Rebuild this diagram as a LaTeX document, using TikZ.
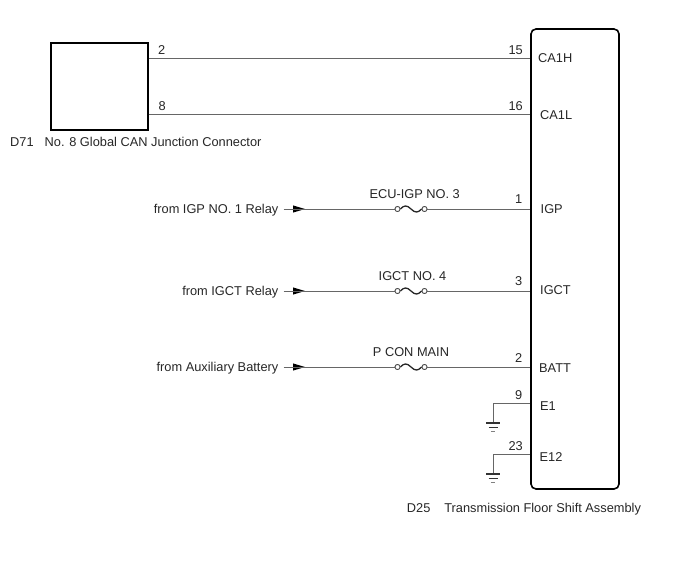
\documentclass[tikz,border=0pt]{standalone}
\usepackage{fontspec}
\setmainfont{Liberation Sans}
\begin{document}
\begin{tikzpicture}[x=1pt,y=-1pt,
  font=\fontsize{12.8}{14}\selectfont,
  txt/.style={text=black!85, inner sep=0pt},
  wire/.style={draw=black!60, line width=1pt},
  boxd/.style={draw=black, line width=1.6pt, inner sep=0pt},
  fusec/.style={circle, draw=black!70, line width=0.8pt, fill=white, minimum size=5pt, inner sep=0pt},
  fwave/.style={draw=black!85, line width=1.3pt},
  gnd/.style={draw=black!80, line width=1pt},
  tri/.style={fill=black}]
\useasboundingbox (0,0) rectangle (688,560);

% boxes
\node[boxd, minimum width=97pt, minimum height=87pt] (d71) at (99.2,86.7) {};
\node[boxd, rounded corners=5pt, minimum width=88pt, minimum height=460pt] (d25) at (575,259) {};

% pin coordinates on the assembly
\coordinate (p15) at (d25.west |- 0,58.5);
\coordinate (p16) at (d25.west |- 0,114.5);
\coordinate (p1)  at (d25.west |- 0,209);
\coordinate (p3)  at (d25.west |- 0,291);
\coordinate (p2)  at (d25.west |- 0,367);
\coordinate (p9)  at (d25.west |- 0,403.5);
\coordinate (p23) at (d25.west |- 0,454);
\coordinate (j2) at (d71.east |- 0,58.5);
\coordinate (j8) at (d71.east |- 0,114.5);

% CAN wires
\draw[wire] (j2) -- (p15);
\draw[wire] (j8) -- (p16);

% connector labels
\node[txt, anchor=base west] (n2) at (158,54) {2};
\node[txt, anchor=base west] (n8) at (158.5,110) {8};
\node[txt, anchor=base west] (d71lbl) at (10,146) {D71\hspace{11pt}No. 8 Global CAN Junction Connector};

% pin numbers
\node[txt, anchor=base east] (t15) at (523,54) {15};
\node[txt, anchor=base east] (t16) at (523,110.5) {16};
\node[txt, anchor=base east] (t1)  at (522.5,203.3) {1};
\node[txt, anchor=base east] (t3)  at (522.5,285) {3};
\node[txt, anchor=base east] (t2)  at (522.5,362.3) {2};
\node[txt, anchor=base east] (t9)  at (522.5,399.3) {9};
\node[txt, anchor=base east] (t23) at (523,450) {23};

% pin names
\node[txt, anchor=base west] (lCA1H) at (538,62.7) {CA1H};
\node[txt, anchor=base west] (lCA1L) at (540,119.3) {CA1L};
\node[txt, anchor=base west] (lIGP)  at (540.5,213.3) {IGP};
\node[txt, anchor=base west] (lIGCT) at (540,294.3) {IGCT};
\node[txt, anchor=base west] (lBATT) at (539,372.3) {BATT};
\node[txt, anchor=base west] (lE1)   at (540,410) {E1};
\node[txt, anchor=base west] (lE12)  at (539.5,461) {E12};

\node[txt, anchor=base west] (d25lbl) at (406.7,512) {D25\hspace{14pt}Transmission Floor Shift Assembly};

% supply lines
\foreach \nm/\y/\src/\fz/\fx in {a/209/from IGP NO. 1 Relay/ECU-IGP NO. 3/414.7,
                                 b/291/from IGCT Relay/IGCT NO. 4/412.5,
                                 c/367/from Auxiliary Battery/P CON MAIN/411}{
  \node[txt, anchor=base east] (src\nm) at (278.5,\y+4.5) {\src};
  \coordinate (s\nm) at (283.5,\y);
  \node[fusec] (fl\nm) at (397.5,\y) {};
  \node[fusec] (fr\nm) at (424.5,\y) {};
  \node[txt, anchor=base] (fz\nm) at (\fx,\y-10.7) {\fz};
  \fill[tri] (293,\y-3.6) -- (305,\y) -- (293,\y+3.6) -- cycle;
  \draw[fwave] (fl\nm.east) .. controls (404,\y-4) and (407,\y-4) .. (411,\y) .. controls (415,\y+4) and (418,\y+4) .. (fr\nm.west);
}
\draw[wire] (sa) -- (fla);
\draw[wire] (fra) -- (p1);
\draw[wire] (sb) -- (flb);
\draw[wire] (frb) -- (p3);
\draw[wire] (sc) -- (flc);
\draw[wire] (frc) -- (p2);
\node[fusec] at (fla) {};
\node[fusec] at (fra) {};
\node[fusec] at (flb) {};
\node[fusec] at (frb) {};
\node[fusec] at (flc) {};
\node[fusec] at (frc) {};

% grounds
\coordinate (g1) at (493,423);
\coordinate (g2) at (493,474);
\draw[wire] (p9) -| (g1);
\draw[wire] (p23) -| (g2);
\foreach \g in {g1,g2}{
  \draw[gnd, line width=1.5pt] ([xshift=-7pt]\g) -- ([xshift=7pt]\g);
  \draw[gnd] ([xshift=-4.5pt,yshift=-4.3pt]\g) -- ([xshift=4.5pt,yshift=-4.3pt]\g);
  \draw[gnd, draw=black!50] ([xshift=-2.2pt,yshift=-8.6pt]\g) -- ([xshift=2.2pt,yshift=-8.6pt]\g);
}
\end{tikzpicture}
\end{document}
